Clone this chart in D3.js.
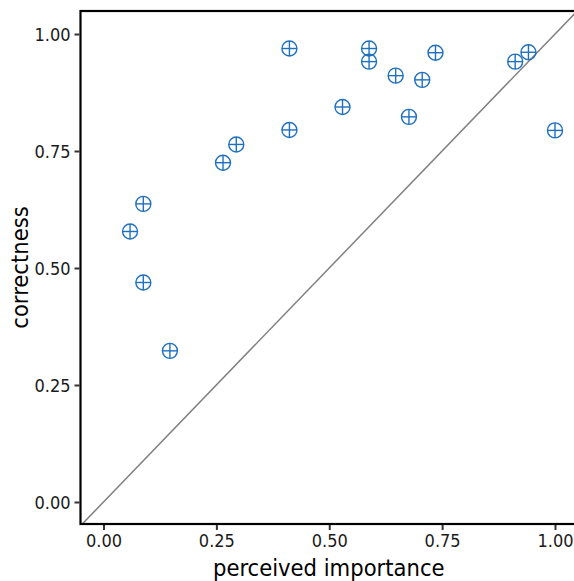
<!DOCTYPE html>
<html>
<head>
<meta charset="utf-8">
<script src="https://cdn.jsdelivr.net/npm/d3@7"></script>
<style>
  body { margin: 0; background: #fff; }
  svg { display: block; }
  text { font-family: "DejaVu Sans Condensed", "DejaVu Sans", sans-serif; font-stretch: condensed; }
</style>
</head>
<body>
<div id="container"></div>
<script>
// perceived importance vs correctness, one point per item
var importance = [0.4118, 0.5882, 0.5882, 0.7353, 0.6471, 0.7059, 0.9118, 0.9412, 0.5294,
                  0.6765, 0.4118, 1.0, 0.2941, 0.2647, 0.0882, 0.0588, 0.0882, 0.1471]
var correctness = [0.969, 0.969, 0.941, 0.960, 0.911, 0.902, 0.941, 0.961, 0.844,
                   0.823, 0.795, 0.794, 0.764, 0.725, 0.637, 0.578, 0.469, 0.323]
var tick_values = [0, 0.25, 0.5, 0.75, 1]
var x_label = "perceived importance"
var y_label = "correctness"

main()

function main() {
    const width = 574;
    const height = 581;
    // panel box (ggplot-like expanded limits)
    const panelLeft = 80.5;
    const panelRight = 577;
    const panelTop = 11;
    const panelBottom = 524;

    const x = d3.scaleLinear()
        .domain([0, 1])
        .range([103.5, 555]);

    const y = d3.scaleLinear()
        .domain([0, 1])
        .range([502, 34]);

    const svg = d3.create("svg")
        .attr("width", width)
        .attr("height", height);

    svg.append("defs").append("clipPath")
        .attr("id", "panel-clip")
        .append("rect")
        .attr("x", panelLeft)
        .attr("y", panelTop)
        .attr("width", panelRight - panelLeft)
        .attr("height", panelBottom - panelTop);

    // y = x reference line
    svg.append("line")
        .attr("clip-path", "url(#panel-clip)")
        .attr("x1", x(-0.2))
        .attr("y1", y(-0.2))
        .attr("x2", x(1.2))
        .attr("y2", y(1.2))
        .attr("stroke", "#808080")
        .attr("stroke-width", 1.5);

    // points: circle with a cross (ggplot shape 10)
    const pts = svg.append("g")
        .selectAll("g")
        .data(importance.map((d, i) => ({x: d, y: correctness[i]})))
        .enter()
        .append("g")
        .attr("transform", d => `translate(${x(d.x)},${y(d.y)})`)
        .attr("stroke", "#1f70c1")
        .attr("stroke-width", 1.4)
        .attr("fill", "none");
    pts.append("circle").attr("r", 7.5);
    pts.append("line").attr("x1", -7.5).attr("x2", 7.5);
    pts.append("line").attr("y1", -7.5).attr("y2", 7.5);

    // panel border: left, top, bottom (right side falls outside the picture)
    svg.append("rect")
        .attr("x", panelLeft)
        .attr("y", panelTop)
        .attr("width", panelRight - panelLeft)
        .attr("height", panelBottom - panelTop)
        .attr("fill", "none")
        .attr("stroke", "#000")
        .attr("stroke-width", 2.2);

    const xAxis = svg.append("g")
        .attr("transform", `translate(0,${panelBottom + 1})`)
        .call(d3.axisBottom(x).tickValues(tick_values).tickFormat(d3.format(".2f")).tickSize(5).tickPadding(4));
    const yAxis = svg.append("g")
        .attr("transform", `translate(${panelLeft - 1},0)`)
        .call(d3.axisLeft(y).tickValues(tick_values).tickFormat(d3.format(".2f")).tickSize(5).tickPadding(4));

    [xAxis, yAxis].forEach(ax => {
        ax.select(".domain").remove();
        ax.selectAll(".tick line").attr("stroke", "#333").attr("stroke-width", 2);
        ax.selectAll(".tick text")
            .attr("fill", "#1a1a1a")
            .style("font-size", "18px")
            .style("font-family", null);
    });
    yAxis.selectAll(".tick text").attr("dy", "0.36em");

    svg.append("text")
        .attr("x", (panelLeft + panelRight) / 2)
        .attr("y", 575.5)
        .attr("text-anchor", "middle")
        .attr("fill", "#000")
        .style("font-size", "23.5px")
        .text(x_label);

    svg.append("text")
        .attr("transform", `translate(28,${(panelTop + panelBottom) / 2}) rotate(-90)`)
        .attr("text-anchor", "middle")
        .attr("fill", "#000")
        .style("font-size", "23.5px")
        .text(y_label);

    d3.select("#container").append(() => svg.node());
}
</script>
</body>
</html>
